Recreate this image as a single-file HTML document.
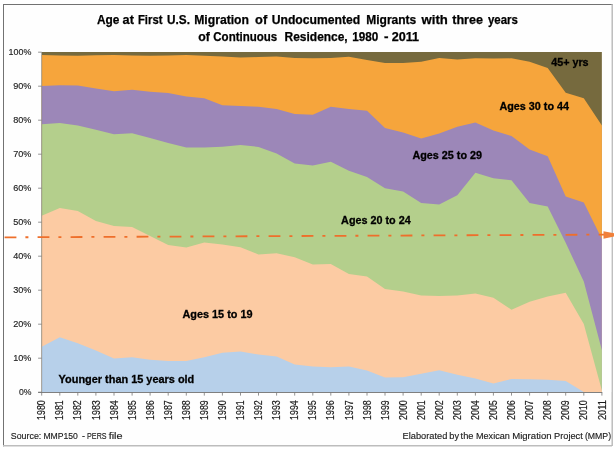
<!DOCTYPE html>
<html><head><meta charset="utf-8"><title>Age at First U.S. Migration</title>
<style>
html,body{margin:0;padding:0;background:#fff;}
body{width:614px;height:450px;overflow:hidden;position:relative;font-family:"Liberation Sans",sans-serif;}
svg{position:absolute;left:0;top:0;display:block;filter:blur(0.4px);}
text{font-family:"Liberation Sans",sans-serif;}
.yl{font-size:9.6px;fill:#222;stroke:#222;stroke-width:0.15px;}
.xl{font-size:10px;fill:#1c1c1c;stroke:#1c1c1c;stroke-width:0.2px;}
.ttl{font-size:12px;font-weight:bold;fill:#000;stroke:#000;stroke-width:0.25px;}
.lab{font-size:11.2px;font-weight:bold;fill:#000;stroke:#000;stroke-width:0.3px;}
.ft{font-size:9.4px;fill:#1c1c1c;stroke:#1c1c1c;stroke-width:0.15px;}
</style></head><body>
<svg width="614" height="450" viewBox="0 0 614 450">
<rect x="0" y="0" width="614" height="450" fill="#ffffff"/>
<!-- frame -->
<rect x="3.5" y="4.5" width="608" height="441" fill="#fefefe" stroke="none"/>
<line x1="3" y1="4.5" x2="613" y2="4.5" stroke="#727272" stroke-width="1"/>
<line x1="3.5" y1="4" x2="3.5" y2="446.3" stroke="#727272" stroke-width="1"/>
<line x1="3" y1="445.7" x2="612" y2="445.7" stroke="#bdbdbd" stroke-width="1.4"/>
<line x1="612.2" y1="4" x2="612.2" y2="446" stroke="#b8b8b8" stroke-width="1.4"/>
<g id="areas">
<polygon points="41.7,52.0 59.8,52.0 77.8,52.0 95.9,52.0 114.0,52.0 132.1,52.0 150.1,52.0 168.2,52.0 186.3,52.0 204.3,52.0 222.4,52.0 240.5,52.0 258.5,52.0 276.6,52.0 294.7,52.0 312.8,52.0 330.8,52.0 348.9,52.0 367.0,52.0 385.0,52.0 403.1,52.0 421.2,52.0 439.2,52.0 457.3,52.0 475.4,52.0 493.4,52.0 511.5,52.0 529.6,52.0 547.7,52.0 565.7,52.0 583.8,52.0 601.9,52.0 601.9,392.0 583.8,392.0 565.7,392.0 547.7,392.0 529.6,392.0 511.5,392.0 493.4,392.0 475.4,392.0 457.3,392.0 439.2,392.0 421.2,392.0 403.1,392.0 385.0,392.0 367.0,392.0 348.9,392.0 330.8,392.0 312.8,392.0 294.7,392.0 276.6,392.0 258.5,392.0 240.5,392.0 222.4,392.0 204.3,392.0 186.3,392.0 168.2,392.0 150.1,392.0 132.1,392.0 114.0,392.0 95.9,392.0 77.8,392.0 59.8,392.0 41.7,392.0" fill="#766A3E"/>
<polygon points="41.7,55.0 59.8,55.6 77.8,55.8 95.9,55.3 114.0,55.0 132.1,55.6 150.1,55.8 168.2,55.6 186.3,55.0 204.3,55.8 222.4,56.6 240.5,57.6 258.5,57.1 276.6,56.6 294.7,58.1 312.8,58.3 330.8,57.9 348.9,56.8 367.0,60.1 385.0,63.1 403.1,63.1 421.2,61.8 439.2,58.1 457.3,59.6 475.4,58.3 493.4,58.6 511.5,58.3 529.6,61.8 547.7,68.1 565.7,92.7 583.8,98.3 601.9,125.4 601.9,392.0 583.8,392.0 565.7,392.0 547.7,392.0 529.6,392.0 511.5,392.0 493.4,392.0 475.4,392.0 457.3,392.0 439.2,392.0 421.2,392.0 403.1,392.0 385.0,392.0 367.0,392.0 348.9,392.0 330.8,392.0 312.8,392.0 294.7,392.0 276.6,392.0 258.5,392.0 240.5,392.0 222.4,392.0 204.3,392.0 186.3,392.0 168.2,392.0 150.1,392.0 132.1,392.0 114.0,392.0 95.9,392.0 77.8,392.0 59.8,392.0 41.7,392.0" fill="#F6A53C"/>
<polygon points="41.7,86.0 59.8,85.2 77.8,85.5 95.9,88.5 114.0,91.2 132.1,89.7 150.1,91.7 168.2,93.0 186.3,96.5 204.3,98.3 222.4,105.3 240.5,106.1 258.5,106.8 276.6,109.1 294.7,114.1 312.8,114.8 330.8,106.8 348.9,109.1 367.0,110.8 385.0,127.9 403.1,132.4 421.2,138.5 439.2,133.4 457.3,126.7 475.4,122.4 493.4,130.6 511.5,136.1 529.6,149.4 547.7,156.3 565.7,196.6 583.8,202.4 601.9,239.0 601.9,392.0 583.8,392.0 565.7,392.0 547.7,392.0 529.6,392.0 511.5,392.0 493.4,392.0 475.4,392.0 457.3,392.0 439.2,392.0 421.2,392.0 403.1,392.0 385.0,392.0 367.0,392.0 348.9,392.0 330.8,392.0 312.8,392.0 294.7,392.0 276.6,392.0 258.5,392.0 240.5,392.0 222.4,392.0 204.3,392.0 186.3,392.0 168.2,392.0 150.1,392.0 132.1,392.0 114.0,392.0 95.9,392.0 77.8,392.0 59.8,392.0 41.7,392.0" fill="#9C87B8"/>
<polygon points="41.7,124.2 59.8,123.1 77.8,125.4 95.9,129.7 114.0,134.2 132.1,133.2 150.1,138.0 168.2,143.0 186.3,147.5 204.3,147.5 222.4,146.8 240.5,145.0 258.5,146.9 276.6,153.4 294.7,163.4 312.8,165.4 330.8,161.7 348.9,170.7 367.0,177.0 385.0,188.3 403.1,191.6 421.2,202.9 439.2,204.4 457.3,195.3 475.4,172.7 493.4,178.2 511.5,180.3 529.6,202.9 547.7,206.6 565.7,242.8 583.8,281.6 601.9,350.3 601.9,392.0 583.8,392.0 565.7,392.0 547.7,392.0 529.6,392.0 511.5,392.0 493.4,392.0 475.4,392.0 457.3,392.0 439.2,392.0 421.2,392.0 403.1,392.0 385.0,392.0 367.0,392.0 348.9,392.0 330.8,392.0 312.8,392.0 294.7,392.0 276.6,392.0 258.5,392.0 240.5,392.0 222.4,392.0 204.3,392.0 186.3,392.0 168.2,392.0 150.1,392.0 132.1,392.0 114.0,392.0 95.9,392.0 77.8,392.0 59.8,392.0 41.7,392.0" fill="#B4CF8C"/>
<polygon points="41.7,215.8 59.8,208.0 77.8,211.1 95.9,220.9 114.0,226.1 132.1,226.9 150.1,235.9 168.2,245.0 186.3,247.6 204.3,242.6 222.4,244.6 240.5,247.2 258.5,254.4 276.6,253.2 294.7,257.2 312.8,264.5 330.8,264.0 348.9,274.0 367.0,276.5 385.0,289.1 403.1,291.6 421.2,295.4 439.2,295.9 457.3,295.4 475.4,293.6 493.4,297.7 511.5,309.8 529.6,301.8 547.7,296.5 565.7,292.7 583.8,324.0 601.9,390.5 601.9,392.0 583.8,392.0 565.7,392.0 547.7,392.0 529.6,392.0 511.5,392.0 493.4,392.0 475.4,392.0 457.3,392.0 439.2,392.0 421.2,392.0 403.1,392.0 385.0,392.0 367.0,392.0 348.9,392.0 330.8,392.0 312.8,392.0 294.7,392.0 276.6,392.0 258.5,392.0 240.5,392.0 222.4,392.0 204.3,392.0 186.3,392.0 168.2,392.0 150.1,392.0 132.1,392.0 114.0,392.0 95.9,392.0 77.8,392.0 59.8,392.0 41.7,392.0" fill="#FCCBA3"/>
<polygon points="41.7,346.8 59.8,337.2 77.8,343.3 95.9,350.6 114.0,358.6 132.1,357.3 150.1,359.8 168.2,361.1 186.3,361.1 204.3,357.3 222.4,352.8 240.5,351.6 258.5,354.6 276.6,356.6 294.7,364.6 312.8,366.4 330.8,367.2 348.9,366.6 367.0,370.4 385.0,377.4 403.1,377.2 421.2,373.7 439.2,370.2 457.3,374.7 475.4,378.4 493.4,383.5 511.5,378.9 529.6,379.2 547.7,379.7 565.7,381.0 583.8,392.0 601.9,392.0 601.9,392.0 583.8,392.0 565.7,392.0 547.7,392.0 529.6,392.0 511.5,392.0 493.4,392.0 475.4,392.0 457.3,392.0 439.2,392.0 421.2,392.0 403.1,392.0 385.0,392.0 367.0,392.0 348.9,392.0 330.8,392.0 312.8,392.0 294.7,392.0 276.6,392.0 258.5,392.0 240.5,392.0 222.4,392.0 204.3,392.0 186.3,392.0 168.2,392.0 150.1,392.0 132.1,392.0 114.0,392.0 95.9,392.0 77.8,392.0 59.8,392.0 41.7,392.0" fill="#B7D0EA"/>
</g>
<rect x="601.95" y="50" width="9.3" height="342" fill="#fefefe"/>
<rect x="36" y="50" width="5.2" height="341.4" fill="#fefefe"/>
<g id="axis">
<line x1="41.7" y1="52.0" x2="41.7" y2="392.5" stroke="#707070" stroke-opacity="0.5" stroke-width="1"/>
<line x1="38.1" y1="392.5" x2="602.27" y2="392.5" stroke="#707070" stroke-width="0.9"/>
<line x1="38.1" y1="392.2" x2="41.7" y2="392.2" stroke="#7c7c7c" stroke-width="0.8"/>
<text x="18.9" y="395.2" class="yl" textLength="12.5" lengthAdjust="spacingAndGlyphs">0%</text>
<line x1="38.1" y1="358.2" x2="41.7" y2="358.2" stroke="#7c7c7c" stroke-width="0.8"/>
<text x="13.2" y="361.2" class="yl" textLength="18.2" lengthAdjust="spacingAndGlyphs">10%</text>
<line x1="38.1" y1="324.2" x2="41.7" y2="324.2" stroke="#7c7c7c" stroke-width="0.8"/>
<text x="13.2" y="327.2" class="yl" textLength="18.2" lengthAdjust="spacingAndGlyphs">20%</text>
<line x1="38.1" y1="290.2" x2="41.7" y2="290.2" stroke="#7c7c7c" stroke-width="0.8"/>
<text x="13.2" y="293.2" class="yl" textLength="18.2" lengthAdjust="spacingAndGlyphs">30%</text>
<line x1="38.1" y1="256.2" x2="41.7" y2="256.2" stroke="#7c7c7c" stroke-width="0.8"/>
<text x="13.2" y="259.2" class="yl" textLength="18.2" lengthAdjust="spacingAndGlyphs">40%</text>
<line x1="38.1" y1="222.2" x2="41.7" y2="222.2" stroke="#7c7c7c" stroke-width="0.8"/>
<text x="13.2" y="225.2" class="yl" textLength="18.2" lengthAdjust="spacingAndGlyphs">50%</text>
<line x1="38.1" y1="188.2" x2="41.7" y2="188.2" stroke="#7c7c7c" stroke-width="0.8"/>
<text x="13.2" y="191.2" class="yl" textLength="18.2" lengthAdjust="spacingAndGlyphs">60%</text>
<line x1="38.1" y1="154.2" x2="41.7" y2="154.2" stroke="#7c7c7c" stroke-width="0.8"/>
<text x="13.2" y="157.2" class="yl" textLength="18.2" lengthAdjust="spacingAndGlyphs">70%</text>
<line x1="38.1" y1="120.2" x2="41.7" y2="120.2" stroke="#7c7c7c" stroke-width="0.8"/>
<text x="13.2" y="123.2" class="yl" textLength="18.2" lengthAdjust="spacingAndGlyphs">80%</text>
<line x1="38.1" y1="86.2" x2="41.7" y2="86.2" stroke="#7c7c7c" stroke-width="0.8"/>
<text x="13.2" y="89.2" class="yl" textLength="18.2" lengthAdjust="spacingAndGlyphs">90%</text>
<line x1="38.1" y1="52.2" x2="41.7" y2="52.2" stroke="#7c7c7c" stroke-width="0.8"/>
<text x="8.6" y="55.2" class="yl" textLength="22.8" lengthAdjust="spacingAndGlyphs">100%</text>
<line x1="41.7" y1="392.5" x2="41.7" y2="395.6" stroke="#777777" stroke-width="0.8"/>
<text transform="translate(45.3,420) rotate(-90)" class="xl" textLength="19.8" lengthAdjust="spacingAndGlyphs">1980</text>
<line x1="59.8" y1="392.5" x2="59.8" y2="395.6" stroke="#777777" stroke-width="0.8"/>
<text transform="translate(63.4,420) rotate(-90)" class="xl" textLength="19.8" lengthAdjust="spacingAndGlyphs">1981</text>
<line x1="77.8" y1="392.5" x2="77.8" y2="395.6" stroke="#777777" stroke-width="0.8"/>
<text transform="translate(81.4,420) rotate(-90)" class="xl" textLength="19.8" lengthAdjust="spacingAndGlyphs">1982</text>
<line x1="95.9" y1="392.5" x2="95.9" y2="395.6" stroke="#777777" stroke-width="0.8"/>
<text transform="translate(99.5,420) rotate(-90)" class="xl" textLength="19.8" lengthAdjust="spacingAndGlyphs">1983</text>
<line x1="114.0" y1="392.5" x2="114.0" y2="395.6" stroke="#777777" stroke-width="0.8"/>
<text transform="translate(117.6,420) rotate(-90)" class="xl" textLength="19.8" lengthAdjust="spacingAndGlyphs">1984</text>
<line x1="132.1" y1="392.5" x2="132.1" y2="395.6" stroke="#777777" stroke-width="0.8"/>
<text transform="translate(135.7,420) rotate(-90)" class="xl" textLength="19.8" lengthAdjust="spacingAndGlyphs">1985</text>
<line x1="150.1" y1="392.5" x2="150.1" y2="395.6" stroke="#777777" stroke-width="0.8"/>
<text transform="translate(153.7,420) rotate(-90)" class="xl" textLength="19.8" lengthAdjust="spacingAndGlyphs">1986</text>
<line x1="168.2" y1="392.5" x2="168.2" y2="395.6" stroke="#777777" stroke-width="0.8"/>
<text transform="translate(171.8,420) rotate(-90)" class="xl" textLength="19.8" lengthAdjust="spacingAndGlyphs">1987</text>
<line x1="186.3" y1="392.5" x2="186.3" y2="395.6" stroke="#777777" stroke-width="0.8"/>
<text transform="translate(189.9,420) rotate(-90)" class="xl" textLength="19.8" lengthAdjust="spacingAndGlyphs">1988</text>
<line x1="204.3" y1="392.5" x2="204.3" y2="395.6" stroke="#777777" stroke-width="0.8"/>
<text transform="translate(207.9,420) rotate(-90)" class="xl" textLength="19.8" lengthAdjust="spacingAndGlyphs">1989</text>
<line x1="222.4" y1="392.5" x2="222.4" y2="395.6" stroke="#777777" stroke-width="0.8"/>
<text transform="translate(226.0,420) rotate(-90)" class="xl" textLength="19.8" lengthAdjust="spacingAndGlyphs">1990</text>
<line x1="240.5" y1="392.5" x2="240.5" y2="395.6" stroke="#777777" stroke-width="0.8"/>
<text transform="translate(244.1,420) rotate(-90)" class="xl" textLength="19.8" lengthAdjust="spacingAndGlyphs">1991</text>
<line x1="258.5" y1="392.5" x2="258.5" y2="395.6" stroke="#777777" stroke-width="0.8"/>
<text transform="translate(262.1,420) rotate(-90)" class="xl" textLength="19.8" lengthAdjust="spacingAndGlyphs">1992</text>
<line x1="276.6" y1="392.5" x2="276.6" y2="395.6" stroke="#777777" stroke-width="0.8"/>
<text transform="translate(280.2,420) rotate(-90)" class="xl" textLength="19.8" lengthAdjust="spacingAndGlyphs">1993</text>
<line x1="294.7" y1="392.5" x2="294.7" y2="395.6" stroke="#777777" stroke-width="0.8"/>
<text transform="translate(298.3,420) rotate(-90)" class="xl" textLength="19.8" lengthAdjust="spacingAndGlyphs">1994</text>
<line x1="312.8" y1="392.5" x2="312.8" y2="395.6" stroke="#777777" stroke-width="0.8"/>
<text transform="translate(316.4,420) rotate(-90)" class="xl" textLength="19.8" lengthAdjust="spacingAndGlyphs">1995</text>
<line x1="330.8" y1="392.5" x2="330.8" y2="395.6" stroke="#777777" stroke-width="0.8"/>
<text transform="translate(334.4,420) rotate(-90)" class="xl" textLength="19.8" lengthAdjust="spacingAndGlyphs">1996</text>
<line x1="348.9" y1="392.5" x2="348.9" y2="395.6" stroke="#777777" stroke-width="0.8"/>
<text transform="translate(352.5,420) rotate(-90)" class="xl" textLength="19.8" lengthAdjust="spacingAndGlyphs">1997</text>
<line x1="367.0" y1="392.5" x2="367.0" y2="395.6" stroke="#777777" stroke-width="0.8"/>
<text transform="translate(370.6,420) rotate(-90)" class="xl" textLength="19.8" lengthAdjust="spacingAndGlyphs">1998</text>
<line x1="385.0" y1="392.5" x2="385.0" y2="395.6" stroke="#777777" stroke-width="0.8"/>
<text transform="translate(388.6,420) rotate(-90)" class="xl" textLength="19.8" lengthAdjust="spacingAndGlyphs">1999</text>
<line x1="403.1" y1="392.5" x2="403.1" y2="395.6" stroke="#777777" stroke-width="0.8"/>
<text transform="translate(406.7,420) rotate(-90)" class="xl" textLength="19.8" lengthAdjust="spacingAndGlyphs">2000</text>
<line x1="421.2" y1="392.5" x2="421.2" y2="395.6" stroke="#777777" stroke-width="0.8"/>
<text transform="translate(424.8,420) rotate(-90)" class="xl" textLength="19.8" lengthAdjust="spacingAndGlyphs">2001</text>
<line x1="439.2" y1="392.5" x2="439.2" y2="395.6" stroke="#777777" stroke-width="0.8"/>
<text transform="translate(442.8,420) rotate(-90)" class="xl" textLength="19.8" lengthAdjust="spacingAndGlyphs">2002</text>
<line x1="457.3" y1="392.5" x2="457.3" y2="395.6" stroke="#777777" stroke-width="0.8"/>
<text transform="translate(460.9,420) rotate(-90)" class="xl" textLength="19.8" lengthAdjust="spacingAndGlyphs">2003</text>
<line x1="475.4" y1="392.5" x2="475.4" y2="395.6" stroke="#777777" stroke-width="0.8"/>
<text transform="translate(479.0,420) rotate(-90)" class="xl" textLength="19.8" lengthAdjust="spacingAndGlyphs">2004</text>
<line x1="493.4" y1="392.5" x2="493.4" y2="395.6" stroke="#777777" stroke-width="0.8"/>
<text transform="translate(497.1,420) rotate(-90)" class="xl" textLength="19.8" lengthAdjust="spacingAndGlyphs">2005</text>
<line x1="511.5" y1="392.5" x2="511.5" y2="395.6" stroke="#777777" stroke-width="0.8"/>
<text transform="translate(515.1,420) rotate(-90)" class="xl" textLength="19.8" lengthAdjust="spacingAndGlyphs">2006</text>
<line x1="529.6" y1="392.5" x2="529.6" y2="395.6" stroke="#777777" stroke-width="0.8"/>
<text transform="translate(533.2,420) rotate(-90)" class="xl" textLength="19.8" lengthAdjust="spacingAndGlyphs">2007</text>
<line x1="547.7" y1="392.5" x2="547.7" y2="395.6" stroke="#777777" stroke-width="0.8"/>
<text transform="translate(551.3,420) rotate(-90)" class="xl" textLength="19.8" lengthAdjust="spacingAndGlyphs">2008</text>
<line x1="565.7" y1="392.5" x2="565.7" y2="395.6" stroke="#777777" stroke-width="0.8"/>
<text transform="translate(569.3,420) rotate(-90)" class="xl" textLength="19.8" lengthAdjust="spacingAndGlyphs">2009</text>
<line x1="583.8" y1="392.5" x2="583.8" y2="395.6" stroke="#777777" stroke-width="0.8"/>
<text transform="translate(587.4,420) rotate(-90)" class="xl" textLength="19.8" lengthAdjust="spacingAndGlyphs">2010</text>
<line x1="601.9" y1="392.5" x2="601.9" y2="395.6" stroke="#777777" stroke-width="0.8"/>
<text transform="translate(605.5,420) rotate(-90)" class="xl" textLength="19.8" lengthAdjust="spacingAndGlyphs">2011</text>
</g>
<!-- reference line -->
<line x1="4.6" y1="237.35" x2="606" y2="234.6" stroke="#EE6F2B" stroke-width="1.8" stroke-dasharray="11.8 9 3 9.2"/>
<polygon points="603.5,231.2 622,234.7 603.5,238.8" fill="#F0803A"/>
<!-- title -->
<text x="97" y="23.5" class="ttl" textLength="22.4" lengthAdjust="spacingAndGlyphs">Age</text>
<text x="122.6" y="23.5" class="ttl" textLength="11.3" lengthAdjust="spacingAndGlyphs">at</text>
<text x="138" y="23.5" class="ttl" textLength="24.4" lengthAdjust="spacingAndGlyphs">First</text>
<text x="167.1" y="23.5" class="ttl" textLength="22.9" lengthAdjust="spacingAndGlyphs">U.S.</text>
<text x="194.2" y="23.5" class="ttl" textLength="54.8" lengthAdjust="spacingAndGlyphs">Migration</text>
<text x="255.1" y="23.5" class="ttl" textLength="12.1" lengthAdjust="spacingAndGlyphs">of</text>
<text x="271.7" y="23.5" class="ttl" textLength="88.5" lengthAdjust="spacingAndGlyphs">Undocumented</text>
<text x="366.3" y="23.5" class="ttl" textLength="50.0" lengthAdjust="spacingAndGlyphs">Migrants</text>
<text x="421.6" y="23.5" class="ttl" textLength="26.2" lengthAdjust="spacingAndGlyphs">with</text>
<text x="452.2" y="23.5" class="ttl" textLength="30.8" lengthAdjust="spacingAndGlyphs">three</text>
<text x="488" y="23.5" class="ttl" textLength="29.9" lengthAdjust="spacingAndGlyphs">years</text>
<text x="198.3" y="40.5" class="ttl" textLength="11.6" lengthAdjust="spacingAndGlyphs">of</text>
<text x="213.3" y="40.5" class="ttl" textLength="63.9" lengthAdjust="spacingAndGlyphs">Continuous</text>
<text x="284.6" y="40.5" class="ttl" textLength="63.1" lengthAdjust="spacingAndGlyphs">Residence,</text>
<text x="352.3" y="40.5" class="ttl" textLength="26.1" lengthAdjust="spacingAndGlyphs">1980</text>
<text x="383.9" y="40.5" class="ttl" textLength="4.5" lengthAdjust="spacingAndGlyphs">-</text>
<text x="391.7" y="40.5" class="ttl" textLength="27.4" lengthAdjust="spacingAndGlyphs">2011</text>
<!-- labels -->
<text x="58.6" y="382.5" class="lab" textLength="135.7" lengthAdjust="spacingAndGlyphs">Younger than 15 years old</text>
<text x="182.5" y="318" class="lab" textLength="70" lengthAdjust="spacingAndGlyphs">Ages 15 to 19</text>
<text x="341.1" y="224.2" class="lab" textLength="69.6" lengthAdjust="spacingAndGlyphs">Ages 20 to 24</text>
<text x="412.4" y="159.4" class="lab" textLength="69.7" lengthAdjust="spacingAndGlyphs">Ages 25 to 29</text>
<text x="499.4" y="109.6" class="lab" textLength="69.6" lengthAdjust="spacingAndGlyphs">Ages 30 to 44</text>
<text x="551.2" y="65.9" class="lab" textLength="37.4" lengthAdjust="spacingAndGlyphs">45+ yrs</text>
<!-- footer -->
<text x="10.8" y="439.4" class="ft" textLength="30.5" lengthAdjust="spacingAndGlyphs">Source:</text>
<text x="43.4" y="439.4" class="ft" textLength="34.5" lengthAdjust="spacingAndGlyphs">MMP150</text>
<text x="82" y="439.4" class="ft" textLength="3.0" lengthAdjust="spacingAndGlyphs">-</text>
<text x="87.1" y="439.4" class="ft" textLength="19.5" lengthAdjust="spacingAndGlyphs">PERS</text>
<text x="108.7" y="439.4" class="ft" textLength="13.9" lengthAdjust="spacingAndGlyphs">file</text>
<text x="402.5" y="439.4" class="ft" textLength="44.8" lengthAdjust="spacingAndGlyphs">Elaborated</text>
<text x="449.3" y="439.4" class="ft" textLength="9.7" lengthAdjust="spacingAndGlyphs">by</text>
<text x="460.6" y="439.4" class="ft" textLength="12.9" lengthAdjust="spacingAndGlyphs">the</text>
<text x="476" y="439.4" class="ft" textLength="33.8" lengthAdjust="spacingAndGlyphs">Mexican</text>
<text x="512.2" y="439.4" class="ft" textLength="39.4" lengthAdjust="spacingAndGlyphs">Migration</text>
<text x="554.1" y="439.4" class="ft" textLength="28.7" lengthAdjust="spacingAndGlyphs">Project</text>
<text x="584.9" y="439.4" class="ft" textLength="26.2" lengthAdjust="spacingAndGlyphs">(MMP)</text>
</svg>
</body></html>
